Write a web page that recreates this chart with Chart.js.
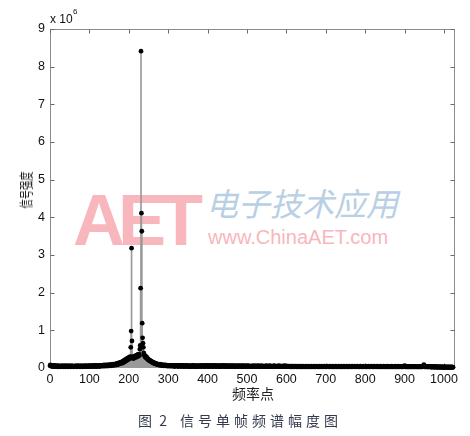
<!DOCTYPE html>
<html>
<head>
<meta charset="utf-8">
<script src="https://cdn.jsdelivr.net/npm/chart.js@4.4.1/dist/chart.umd.min.js"></script>
<style>
  html,body{margin:0;padding:0;background:#fff;}
  #wrap{position:relative;width:470px;height:436px;overflow:hidden;background:#fff;}
  #c{position:absolute;left:0;top:0;z-index:2;}
  .t{position:absolute;white-space:nowrap;}
  .wm{z-index:1;}
  .lbl{z-index:3;}
</style>
</head>
<body>
<div id="wrap">
  <div class="t wm" style="left:73px;top:184px;font:bold 72px/72px 'Liberation Sans',Arial,sans-serif;color:#f8b6bd;letter-spacing:-7px;">AET</div>
  <div class="t wm" style="left:206px;top:186px;font:italic 32px/32px 'Noto Sans CJK SC',sans-serif;color:#b8cfe4;">电子技术应用</div>
  <div class="t wm" style="left:208px;top:227px;font:20px/20px 'Liberation Sans',Arial,sans-serif;color:#f8b6bd;">www.ChinaAET.com</div>
  <canvas id="c" width="470" height="436"></canvas>
  <div class="t lbl" style="left:50px;top:13px;font:12px/12px 'Liberation Sans',Arial,sans-serif;color:#111;">x 10</div>
  <div class="t lbl" style="left:73px;top:8px;font:8px/8px 'Liberation Sans',Arial,sans-serif;color:#111;">6</div>
  <div class="t lbl" style="left:25px;top:190px;transform:translate(-50%,-50%) rotate(-90deg) scaleX(0.66);font:14px/14px 'Noto Sans CJK SC',sans-serif;color:#222;">信号强度</div>
  <div class="t lbl" style="left:232px;top:386px;font:14px/14px 'Noto Sans CJK SC',sans-serif;color:#222;">频率点</div>
  <div class="t lbl" style="left:138px;top:413px;font:14px/14px 'Noto Sans CJK SC',sans-serif;color:#333a4d;word-spacing:4px;">图 2</div>
  <div class="t lbl" style="left:180px;top:413px;font:14px/14px 'Noto Sans CJK SC',sans-serif;color:#333a4d;letter-spacing:4px;">信号单帧频谱幅度图</div>
</div>
<script>
// Spectrum magnitude of one frame, in units of 10^6, index = frequency point (0..1023)
const magnitude = [
  .06,.08,.07,.05,.06,.07,.05,.04, .06,.05,.07,.05,.04,.06,.05,.04, .05,.06,.04,.05,.03,.04,.06,.05, .04,.05,.03,.04,.05,.04,.06,.05,
  .04,.05,.03,.04,.06,.05,.04,.03, .05,.04,.06,.05,.04,.05,.03,.04, .05,.06,.04,.05,.04,.03,.05,.04, .06,.05,.04,.03,.04,.05,.04,.05,
  .05,.04,.06,.05,.03,.04,.05,.04, .06,.05,.04,.05,.03,.04,.05,.06, .04,.05,.04,.03,.05,.04,.06,.05, .04,.05,.04,.06,.05,.04,.05,.04,
  .05,.06,.04,.05,.04,.06,.05,.04, .05,.06,.04,.05,.06,.05,.04,.06, .05,.07,.05,.04,.06,.05,.06,.04, .05,.07,.05,.06,.05,.04,.06,.05,
  .06,.05,.07,.06,.05,.06,.07,.05, .06,.08,.06,.05,.07,.06,.08,.06, .07,.05,.08,.07,.06,.08,.07,.06, .09,.07,.08,.06,.09,.08,.07,.09,
  .08,.1,.07,.09,.08,.1,.09,.11, .08,.1,.12,.09,.11,.13,.1,.12, .14,.11,.13,.15,.12,.14,.16,.13, .15,.18,.14,.17,.2,.16,.19,.22,
  .18,.21,.24,.2,.23,.26,.22,.25, .28,.24,.27,.3,.26,.55,.98,3.18, .72,.3,.26,.29,.25,.28,.31,.27, .3,.33,.28,.31,.34,.3,.33,.36,
  .31,.34,.37,.33,.5,.6,2.12,8.41, 4.11,3.63,1.19,.8,.66,.55,.4,.35, .33,.3,.32,.28,.3,.26,.28,.24, .25,.22,.23,.2,.21,.19,.2,.18,
  .17,.18,.16,.15,.16,.14,.15,.13, .14,.12,.13,.12,.11,.12,.1,.11, .1,.09,.1,.09,.08,.09,.08,.1, .08,.07,.09,.08,.07,.08,.07,.08,
  .07,.06,.08,.07,.06,.07,.08,.06, .07,.06,.05,.07,.06,.07,.05,.06, .07,.06,.05,.06,.07,.05,.06,.05, .07,.06,.05,.06,.04,.06,.05,.06,
  .05,.06,.07,.05,.06,.04,.05,.06, .05,.07,.06,.05,.04,.06,.05,.06, .07,.05,.04,.06,.05,.06,.04,.05, .06,.05,.07,.05,.04,.06,.05,.04,
  .06,.05,.04,.05,.06,.04,.05,.06, .05,.04,.06,.05,.07,.05,.04,.05, .06,.04,.05,.04,.06,.05,.04,.05, .06,.05,.04,.06,.05,.04,.05,.06,
  .05,.06,.04,.05,.07,.05,.06,.04, .05,.06,.05,.04,.06,.05,.07,.06, .04,.05,.06,.05,.04,.06,.05,.04, .05,.07,.05,.06,.04,.05,.06,.05,
  .04,.06,.05,.07,.05,.04,.06,.05, .04,.05,.06,.04,.05,.06,.05,.04, .06,.05,.04,.05,.06,.05,.04,.06, .07,.05,.04,.05,.06,.04,.05,.06,
  .05,.04,.06,.05,.04,.05,.06,.04, .05,.04,.06,.05,.04,.05,.06,.04, .05,.06,.04,.05,.04,.06,.05,.04, .05,.04,.06,.05,.04,.05,.04,.06,
  .05,.04,.05,.06,.04,.05,.04,.05, .06,.04,.05,.04,.06,.05,.04,.05, .04,.05,.06,.04,.05,.04,.05,.04, .06,.05,.04,.05,.04,.05,.04,.05,
  .04,.05,.04,.06,.05,.04,.05,.04, .05,.04,.06,.04,.05,.04,.05,.04, .05,.06,.04,.05,.04,.05,.04,.05, .04,.06,.05,.04,.05,.04,.05,.04,
  .05,.04,.05,.04,.05,.06,.04,.05, .04,.05,.04,.05,.04,.05,.06,.04, .05,.04,.05,.04,.05,.04,.05,.04, .05,.06,.04,.05,.04,.05,.04,.05,
  .04,.05,.04,.05,.04,.06,.05,.04, .05,.04,.05,.04,.05,.04,.05,.04, .05,.04,.05,.06,.04,.05,.04,.05, .04,.05,.04,.05,.04,.05,.04,.04,
  .04,.05,.03,.04,.05,.04,.03,.05, .04,.03,.04,.05,.04,.03,.04,.05, .04,.04,.03,.05,.04,.03,.04,.04, .05,.03,.04,.04,.03,.05,.04,.03,
  .04,.04,.03,.05,.04,.03,.04,.04, .03,.04,.05,.04,.03,.04,.04,.03, .05,.04,.03,.04,.04,.03,.04,.05, .04,.03,.04,.04,.03,.04,.05,.04,
  .03,.04,.04,.03,.05,.04,.03,.04, .04,.03,.04,.05,.04,.03,.04,.04, .03,.04,.05,.04,.03,.04,.04,.03, .04,.05,.04,.03,.04,.04,.03,.04,
  .05,.04,.03,.04,.04,.03,.04,.05, .04,.03,.04,.04,.03,.04,.05,.04, .03,.04,.04,.03,.04,.05,.04,.03, .04,.04,.03,.04,.05,.04,.03,.04,
  .04,.03,.04,.05,.04,.03,.04,.04, .03,.04,.05,.04,.03,.04,.04,.03, .04,.05,.04,.03,.04,.04,.03,.04, .05,.04,.03,.04,.04,.03,.04,.05,
  .04,.03,.04,.04,.03,.04,.05,.04, .03,.04,.04,.03,.04,.05,.04,.03, .04,.04,.03,.04,.05,.04,.03,.04, .04,.03,.04,.05,.04,.03,.04,.04,
  .03,.04,.05,.04,.03,.04,.04,.03, .04,.05,.04,.03,.04,.04,.03,.04, .05,.04,.03,.04,.04,.03,.04,.05, .04,.03,.04,.04,.03,.04,.05,.04,
  .03,.04,.04,.03,.04,.03,.04,.05, .03,.04,.03,.04,.04,.03,.04,.05, .03,.04,.03,.04,.04,.03,.04,.03, .05,.04,.03,.04,.03,.04,.04,.03,
  .04,.03,.04,.05,.03,.04,.03,.04, .03,.04,.04,.03,.05,.04,.03,.04, .03,.04,.03,.04,.05,.03,.04,.03, .04,.03,.04,.04,.03,.04,.03,.04,
  .03,.04,.05,.04,.06,.04,.03,.04, .03,.04,.03,.04,.03,.03,.04,.03, .04,.03,.03,.04,.03,.04,.03,.03, .04,.03,.03,.04,.03,.04,.03,.03,
  .04,.03,.03,.04,.03,.03,.04,.03, .03,.04,.03,.03,.04,.03,.03,.04, .03,.03,.04,.05,.06,.09,.05,.03, .03,.04,.03,.03,.04,.03,.03,.03,
  .03,.03,.04,.03,.03,.03,.04,.03, .02,.03,.03,.04,.03,.02,.03,.03, .03,.02,.03,.04,.03,.02,.03,.03, .02,.03,.03,.02,.03,.02,.03,.03,
  .02,.03,.02,.03,.02,.02,.03,.02, .03,.02,.02,.03,.02,.02,.03,.02, .02,.02,.03,.02,.02,.02,.03,.02, .02,.02,.02,.03,.02,.02,.02,.02
];
const xTicks = [0,100,200,300,400,500,600,700,800,900,1000];
const yTicks = [0,1,2,3,4,5,6,7,8,9];
const xMax = 1028;
const yMax = 9;

const points = magnitude.map((v, i) => ({x: i, y: v}));

const frame = {
  id: 'frame',
  beforeDatasetsDraw(chart) {
    const {ctx, chartArea: a, scales: {x, y}} = chart;
    const L = Math.round(a.left) + 0.5, R = Math.round(a.right) - 0.5;
    const T = Math.round(a.top) + 0.5, B = Math.round(a.bottom) - 0.5;
    ctx.save();
    ctx.strokeStyle = '#8c8c8c';
    ctx.lineWidth = 1;
    ctx.strokeRect(L, T, R - L, B - T);
    ctx.strokeStyle = '#6a6a6a';
    ctx.beginPath();
    xTicks.forEach(v => {
      const px = Math.round(x.getPixelForValue(v)) + 0.5;
      ctx.moveTo(px, B); ctx.lineTo(px, B - 4);
      ctx.moveTo(px, T); ctx.lineTo(px, T + 4);
    });
    yTicks.forEach(v => {
      const py = Math.round(y.getPixelForValue(v)) + 0.5;
      ctx.moveTo(L, py); ctx.lineTo(L + 4, py);
      ctx.moveTo(R, py); ctx.lineTo(R - 4, py);
    });
    ctx.stroke();
    ctx.restore();
  }
};

const tickFont = {family: "'Liberation Sans', Arial, sans-serif", size: 12.5};

new Chart(document.getElementById('c'), {
  type: 'bar',
  data: {
    datasets: [
      {
        type: 'scatter',
        data: points,
        pointRadius: 2.4,
        pointBackgroundColor: '#000',
        pointBorderColor: '#000',
        pointBorderWidth: 0,
        clip: false,
        order: 0
      },
      {
        type: 'bar',
        data: points,
        backgroundColor: '#9a9a9a',
        barThickness: 1,
        grouped: false,
        order: 1
      }
    ]
  },
  options: {
    responsive: false,
    animation: false,
    events: [],
    layout: {padding: {left: 0, top: 29, right: 15, bottom: 0}},
    plugins: {legend: {display: false}, tooltip: {enabled: false}},
    scales: {
      x: {
        type: 'linear', min: 0, max: xMax, offset: false,
        afterBuildTicks: s => { s.ticks = xTicks.map(v => ({value: v})); },
        afterFit: s => { s.height = 68; },
        grid: {display: false, drawTicks: false, offset: false},
        border: {display: false},
        ticks: {padding: 4, color: '#111', font: tickFont, maxRotation: 0, autoSkip: false, callback: v => String(v)}
      },
      y: {
        type: 'linear', min: 0, max: yMax,
        afterBuildTicks: s => { s.ticks = yTicks.map(v => ({value: v})); },
        afterFit: s => { s.width = 50; },
        grid: {display: false, drawTicks: false},
        border: {display: false},
        ticks: {padding: 5, color: '#111', font: tickFont, autoSkip: false, callback: v => String(v)}
      }
    }
  },
  plugins: [frame]
});
</script>
</body>
</html>
